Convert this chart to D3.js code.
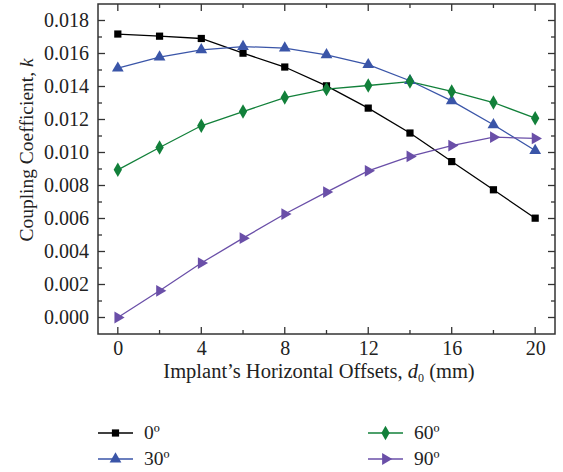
<!DOCTYPE html>
<html><head><meta charset="utf-8">
<script src="https://cdn.jsdelivr.net/npm/d3@7"></script>
<style>body{margin:0;background:#fff}svg{display:block}text{font-family:"Liberation Serif","DejaVu Serif",serif;fill:#222}</style>
</head><body><svg id="c" width="563" height="472"></svg>
<script>
const offsets = [0,2,4,6,8,10,12,14,16,18,20];
const k0  = [0.01718,0.01705,0.01691,0.01602,0.01518,0.01404,0.01269,0.01118,0.00945,0.00774,0.00602];
const k30 = [0.01511,0.01578,0.01622,0.01642,0.01633,0.01592,0.01532,0.01435,0.01313,0.01168,0.01012];
const k60 = [0.00895,0.01030,0.01162,0.01248,0.01333,0.01384,0.01406,0.01430,0.01370,0.01303,0.01208];
const k90 = [0.00000,0.00162,0.00330,0.00481,0.00627,0.00760,0.00889,0.00976,0.01042,0.01093,0.01085];
const seriesNames = ["0º","30º","60º","90º"];
const xTicks = [0,4,8,12,16,20];
const yTicks = [0,0.002,0.004,0.006,0.008,0.010,0.012,0.014,0.016,0.018];

const colors = ["#000000","#3a55a8","#12803a","#6a4fa8"];
const markers = ["square","triangle","diamond","right"];
const data = [k0,k30,k60,k90];

const svg = d3.select("#c");
const L=98,R=555,T=4,B=334;
const x = d3.scaleLinear().domain([-0.95,20.95]).range([L,R]);
const y = d3.scaleLinear().domain([-0.001,0.019]).range([B,T]);

function sym(type){
  if(type==="square") return d3.symbol(d3.symbolSquare,52)();
  if(type==="diamond") return d3.symbol(d3.symbolDiamond,60)();
  return d3.symbol(d3.symbolTriangle,60)();
}

const line = d3.line().x((d,i)=>x(offsets[i])).y(d=>y(d));
data.forEach((vals,si)=>{
  svg.append("path").attr("d",line(vals)).attr("fill","none").attr("stroke",colors[si]).attr("stroke-width",1.3);
});
data.forEach((vals,si)=>{
  vals.forEach((v,i)=>{
    const rot = markers[si]==="right"?90:0;
    svg.append("path").attr("d",sym(markers[si])).attr("fill",colors[si])
      .attr("transform",`translate(${x(offsets[i])},${y(v)}) rotate(${rot})`);
  });
});

// frame
svg.append("rect").attr("x",L).attr("y",T).attr("width",R-L).attr("height",B-T).attr("fill","none").attr("stroke","#333").attr("stroke-width",1.5);

// bottom axis
const xMinor = d3.range(0,21,2);
const gx = svg.append("g").attr("transform",`translate(0,${B})`);
gx.call(d3.axisBottom(x).tickValues(xTicks).tickSize(0).tickPadding(7).tickFormat(d3.format("d")));
gx.select(".domain").remove();
gx.attr("font-size",null).attr("font-family",null);
gx.selectAll("text").style("font-size","20px").style("font-family","'Liberation Serif', serif").attr("fill","#222");
xMinor.forEach(t=>{
  const len = xTicks.includes(t)?7:4;
  svg.append("line").attr("x1",x(t)).attr("x2",x(t)).attr("y1",B).attr("y2",B-len).attr("stroke","#333").attr("stroke-width",1.3);
  svg.append("line").attr("x1",x(t)).attr("x2",x(t)).attr("y1",T).attr("y2",T+len).attr("stroke","#333").attr("stroke-width",1.3);
});
// left axis
const gy = svg.append("g").attr("transform",`translate(${L},0)`);
gy.call(d3.axisLeft(y).tickValues(yTicks).tickSize(0).tickPadding(9).tickFormat(d3.format(".3f")));
gy.select(".domain").remove();
gy.attr("font-size",null).attr("font-family",null);
gy.selectAll("text").style("font-size","20px").style("font-family","'Liberation Serif', serif").attr("fill","#222");
d3.range(0,19).map(i=>i*0.001).forEach((t,i)=>{
  const len = i%2===0?7:4;
  svg.append("line").attr("x1",L).attr("x2",L+len).attr("y1",y(t)).attr("y2",y(t)).attr("stroke","#333").attr("stroke-width",1.3);
  svg.append("line").attr("x1",R).attr("x2",R-len).attr("y1",y(t)).attr("y2",y(t)).attr("stroke","#333").attr("stroke-width",1.3);
});

// axis titles
const xt = svg.append("text").attr("x",319).attr("y",378).attr("text-anchor","middle").style("font-size","20.5px");
xt.append("tspan").text("Implant’s Horizontal Offsets, ");
xt.append("tspan").attr("font-style","italic").text("d");
xt.append("tspan").style("font-size","12px").attr("dy",4).text("0");
xt.append("tspan").attr("dy",-4).text(" (mm)");

const yt = svg.append("text").attr("transform",`translate(33,150) rotate(-90)`).attr("text-anchor","middle").style("font-size","19.5px");
yt.append("tspan").text("Coupling Coefficient, ");
yt.append("tspan").attr("font-style","italic").text("k");

// legend
const legPos = [[98,433],[98,459],[368,433],[368,459]];
seriesNames.forEach((n,si)=>{
  const [lx,ly]=legPos[si];
  svg.append("line").attr("x1",lx).attr("x2",lx+35).attr("y1",ly).attr("y2",ly).attr("stroke",colors[si]).attr("stroke-width",1.3);
  svg.append("path").attr("d",sym(markers[si]))
    .attr("fill",colors[si]).attr("transform",`translate(${lx+17.5},${ly}) rotate(${markers[si]==="right"?90:0})`);
  svg.append("text").attr("x",lx+46).attr("y",ly+6).style("font-size","19.5px").text(n);
});
</script></body></html>
